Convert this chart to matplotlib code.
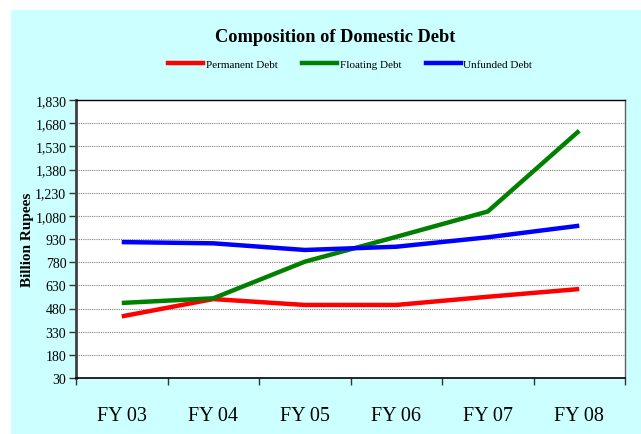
import matplotlib.pyplot as plt
from matplotlib.patches import Rectangle
from matplotlib.lines import Line2D
import numpy as np

years = ['FY 03', 'FY 04', 'FY 05', 'FY 06', 'FY 07', 'FY 08']
permanent = [429, 541, 503, 503, 556, 606]
floating = [516, 546, 783, 944, 1108, 1631]
unfunded = [910, 902, 859, 880, 941, 1016]
yticks = [30, 180, 330, 480, 630, 780, 930, 1080, 1230, 1380, 1530, 1680, 1830]

serif = 'Liberation Serif'

fig = plt.figure(figsize=(6.41, 4.35), dpi=100, facecolor='white')
# cyan chart area, with a small white margin at top and left
fig.patches.append(Rectangle((11 / 641, 0), 1, 1 - 11 / 435, transform=fig.transFigure,
                             facecolor='#CCFFFF', edgecolor='none', zorder=-5))

ax = fig.add_axes([76 / 641, 56 / 435, 549 / 641, 278 / 435])
ax.set_facecolor('white')

x = np.arange(len(years))
ax.plot(x, permanent, color='#FF0000', lw=3.2, solid_capstyle='butt', zorder=3)
ax.plot(x, floating, color='#008000', lw=3.2, solid_capstyle='butt', zorder=3)
ax.plot(x, unfunded, color='#0000FF', lw=3.2, solid_capstyle='butt', zorder=3)

ax.set_xlim(-0.5, len(years) - 0.5)
ax.set_ylim(30, 1830)

# ticks at category boundaries, labels at centres
ax.set_xticks(np.arange(-0.5, len(years), 1.0))
ax.set_xticklabels([])
ax.set_xticks(x, minor=True)
ax.set_xticklabels(years, minor=True, fontfamily=serif, fontsize=14.5)
ax.tick_params(axis='x', which='minor', length=0, pad=20)
ax.tick_params(axis='x', which='major', length=5, width=1, color='#333333', direction='out')

ax.set_yticks(yticks)
ax.set_yticklabels(['{:,}'.format(v) for v in yticks], fontfamily=serif, fontsize=10)
ax.tick_params(axis='y', length=5, width=1, color='#333333', direction='out', pad=2)

ax.yaxis.grid(True, color='#808080', linestyle=(0, (1, 1)), lw=0.8)
ax.set_axisbelow(True)

ax.spines['left'].set_color('#404040')
ax.spines['left'].set_linewidth(2)
ax.spines['bottom'].set_color('black')
ax.spines['bottom'].set_linewidth(1.2)
ax.spines['top'].set_color('black')
ax.spines['top'].set_linewidth(1)
ax.spines['right'].set_color('#606060')
ax.spines['right'].set_linewidth(1)

ax.set_ylabel('Billion Rupees', fontfamily=serif, fontweight='bold', fontsize=11, labelpad=1)

fig.text(335 / 641, 1 - 38 / 435, 'Composition of Domestic Debt', ha='center', va='center',
         fontfamily=serif, fontweight='bold', fontsize=13.2)

handles = [Line2D([], [], color=c, lw=3.2) for c in ['#FF0000', '#008000', '#0000FF']]
fig.legend(handles, ['Permanent Debt', 'Floating Debt', 'Unfunded Debt'],
           loc='center', bbox_to_anchor=(350 / 641, 1 - 65 / 435), ncol=3, frameon=False,
           prop={'family': serif, 'size': 8}, handlelength=3.2, handletextpad=0.2,
           columnspacing=2.2)

fig.savefig('out.png', dpi=100, facecolor='white')
